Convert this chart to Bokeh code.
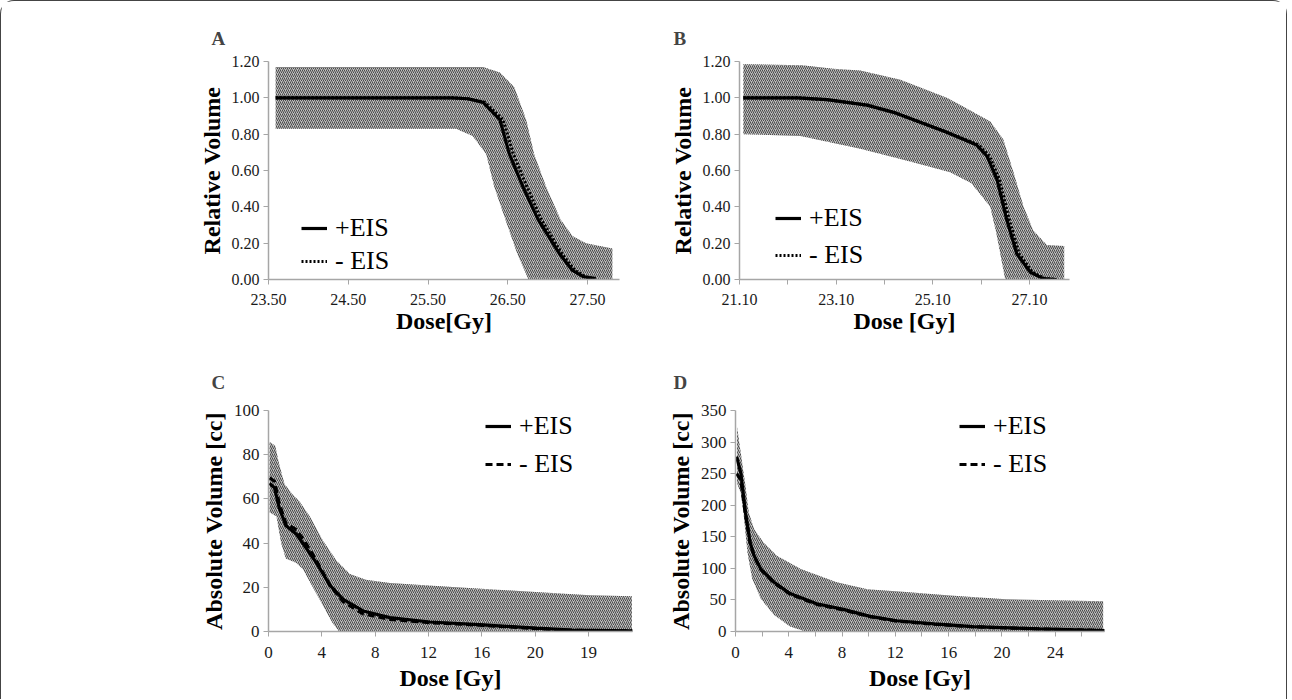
from bokeh.plotting import figure
from bokeh.layouts import column, row
from bokeh.models import Range1d, FixedTicker, NumeralTickFormatter, Legend, LegendItem
from bokeh.embed import file_html
from bokeh.resources import INLINE

# ---------------- data ----------------
# Panel A (relative DVH)
a_hi_x = [23.59, 26.19, 26.40, 26.58, 26.73, 26.83, 26.98, 27.16, 27.31, 27.48, 27.81]
a_hi_y = [1.17, 1.17, 1.14, 1.06, 0.88, 0.69, 0.51, 0.33, 0.24, 0.20, 0.17]
a_lo_x = [23.59, 25.85, 26.06, 26.23, 26.33, 26.47, 26.62, 26.76, 27.81]
a_lo_y = [0.83, 0.83, 0.79, 0.69, 0.51, 0.33, 0.14, 0.0, 0.0]
a_plus_x = [23.59, 25.80, 26.00, 26.19, 26.40, 26.52, 26.69, 26.88, 27.15, 27.31, 27.45, 27.60]
a_plus_y = [1.0, 1.0, 0.995, 0.975, 0.88, 0.69, 0.51, 0.33, 0.14, 0.05, 0.015, 0.005]
a_minus_x = [23.59, 25.80, 26.00, 26.21, 26.44, 26.57, 26.74, 26.92, 27.18, 27.34, 27.47, 27.60]
a_minus_y = [1.0, 1.0, 0.995, 0.975, 0.88, 0.69, 0.51, 0.33, 0.14, 0.05, 0.015, 0.005]

# Panel B
b_hi_x = [21.18, 22.40, 23.04, 23.60, 24.43, 25.39, 25.67, 26.29, 26.56, 26.77, 26.98, 27.18, 27.46, 27.82]
b_hi_y = [1.185, 1.18, 1.16, 1.15, 1.10, 1.00, 0.96, 0.87, 0.77, 0.59, 0.40, 0.27, 0.19, 0.185]
b_lo_x = [21.18, 22.36, 23.60, 24.63, 25.46, 25.90, 26.29, 26.42, 26.60, 27.82]
b_lo_y = [0.80, 0.79, 0.72, 0.65, 0.59, 0.53, 0.40, 0.25, 0.0, 0.0]
b_plus_x = [21.18, 22.30, 22.91, 23.74, 24.29, 25.35, 26.01, 26.22, 26.43, 26.63, 26.84, 27.12, 27.39, 27.66]
b_plus_y = [1.0, 1.0, 0.99, 0.96, 0.92, 0.815, 0.74, 0.68, 0.55, 0.33, 0.14, 0.04, 0.005, 0.0]
b_minus_x = [21.18, 22.30, 22.91, 23.74, 24.29, 25.35, 26.05, 26.27, 26.48, 26.68, 26.89, 27.16, 27.42, 27.66]
b_minus_y = [1.0, 1.0, 0.99, 0.96, 0.92, 0.815, 0.74, 0.68, 0.55, 0.33, 0.14, 0.04, 0.005, 0.0]

# Panel C (absolute DVH)
c_hi_x = [0.08, 0.5, 0.8, 1.2, 1.8, 2.3, 3.1, 4.1, 5.1, 6.1, 7.3, 9.1, 14.1, 19.1, 24.1, 27.25]
c_hi_y = [85.7, 84, 75.7, 66.7, 62, 59, 52, 41, 32, 26, 23.4, 22, 20, 18.2, 16.4, 16]
c_lo_x = [0.08, 0.6, 0.95, 1.3, 2.1, 2.6, 3.3, 4.1, 4.8, 5.3, 27.25]
c_lo_y = [54, 52, 40, 33, 31, 28, 20.4, 11.5, 4, 0, 0]
c_x = [0.08, 0.45, 0.8, 1.3, 2.1, 2.8, 3.6, 4.6, 5.6, 7.1, 9.1, 12.1, 16.1, 20.1, 22.8, 27.3]
c_plus_y = [67, 65, 56, 48, 44, 38, 31, 21, 14.5, 9.3, 6.3, 4.3, 3.0, 1.5, 0.6, 0.3]
c_minus_y = [69.5, 68, 58, 49, 46, 40, 32, 21, 13.5, 8, 5.5, 4, 2.8, 1.3, 0.5, 0.3]

# Panel D
d_hi_x = [0.12, 0.4, 0.75, 1.0, 1.4, 2.1, 3.1, 4.9, 7.6, 9.9, 12.8, 16.1, 20.3, 27.6]
d_hi_y = [324, 282, 230, 188, 162, 141, 120, 99, 78, 67, 62.7, 57, 51, 48]
d_lo_x = [0.12, 0.4, 0.6, 0.9, 1.25, 1.9, 2.9, 4.1, 5.25, 27.6]
d_lo_y = [235, 219, 188, 125, 84, 52, 26, 8, 0, 0]
d_x = [0.08, 0.4, 0.75, 1.1, 1.4, 1.9, 2.9, 4.1, 6.1, 8.1, 10.1, 12.1, 14.9, 17.8, 22.8, 27.7]
d_plus_y = [277, 251, 188, 141, 120, 99, 78, 60, 44, 35, 24, 17, 12, 7.8, 4.2, 1.6]
d_minus_y = [250, 240, 185, 140, 119, 98, 77, 59, 43, 34, 23.5, 16.5, 11.5, 7.5, 4, 1.5]

# ticks / labels
a_xticks = [23.5, 24.5, 25.5, 26.5, 27.5]
ab_yticks = [0.0, 0.2, 0.4, 0.6, 0.8, 1.0, 1.2]
b_xticks = [21.1, 23.1, 25.1, 27.1]
b_xminor = [22.1, 24.1, 26.1]
c_xticks = [0, 4, 8, 12, 16, 20, 24]
c_xlabels = {24: "19"}
c_yticks = [0, 20, 40, 60, 80, 100]
d_xticks = [0, 4, 8, 12, 16, 20, 24]
d_xminor = [2, 6, 10, 14, 18, 22, 26]
d_yticks = [0, 50, 100, 150, 200, 250, 300, 350]

SERIF = "Liberation Serif"
AXIS_COL = "#a6a6a6"
TXT = "#1a1a1a"


def panel(letter, w, h, bl, br, bt, bb, xr, yr, xlabel, ylabel, xticks, yticks,
          xfmt, yfmt, tick_fs, xminor=None, overrides=None, letter_off=-57,
          xlab_standoff=9, xtitle_standoff=0, title_standoff=25):
    p = figure(width=w, height=h, output_backend="svg", toolbar_location=None,
               x_range=Range1d(*xr), y_range=Range1d(*yr),
               min_border_left=bl, min_border_right=br,
               min_border_top=bt, min_border_bottom=bb)
    p.outline_line_color = None
    p.grid.visible = False
    p.background_fill_color = "white"
    p.title.text = letter
    p.title.text_font = SERIF
    p.title.text_font_size = "19px"
    p.title.text_font_style = "bold"
    p.title.align = "left"
    p.title.offset = letter_off
    p.title.standoff = title_standoff
    p.xaxis.ticker = FixedTicker(ticks=xticks, minor_ticks=xminor or [])
    p.yaxis.ticker = FixedTicker(ticks=yticks)
    if xfmt:
        p.xaxis.formatter = NumeralTickFormatter(format=xfmt)
    if yfmt:
        p.yaxis.formatter = NumeralTickFormatter(format=yfmt)
    if overrides:
        p.xaxis.major_label_overrides = overrides
    for ax in (p.xaxis, p.yaxis):
        ax.axis_line_color = AXIS_COL
        ax.axis_line_width = 1.5
        ax.major_tick_line_color = AXIS_COL
        ax.minor_tick_line_color = AXIS_COL
        ax.major_tick_out = 5
        ax.major_tick_in = 0
        ax.minor_tick_out = 5 if xminor else 0
        ax.minor_tick_in = 0
        ax.major_label_text_font = SERIF
        ax.major_label_text_font_size = tick_fs
        ax.major_label_text_color = TXT
        ax.axis_label_text_font = SERIF
        ax.axis_label_text_font_size = "24px"
        ax.axis_label_text_font_style = "bold"
        ax.axis_label_text_color = "#000000"
    p.yaxis.major_label_standoff = 4
    p.yaxis.axis_label_standoff = 4
    p.xaxis.major_label_standoff = xlab_standoff
    p.xaxis.axis_label_standoff = xtitle_standoff
    p.yaxis.minor_tick_out = 0
    p.xaxis.axis_label = xlabel
    p.yaxis.axis_label = ylabel
    return p


def band(p, hx, hy, lx, ly):
    p.patch(x=list(hx) + list(lx[::-1]), y=list(hy) + list(ly[::-1]),
            fill_color="#bdbdbd", line_color=None,
            hatch_pattern="/", hatch_scale=4, hatch_weight=1, hatch_color="#4a4a4a")


def curves(p, x1, y1, x2, y2, dash, loc, spacing):
    r1 = p.line(x1, y1, line_color="black", line_width=3.2)
    r2 = p.line(x2, y2, line_color="black", line_width=3.2, line_dash=dash)
    leg = Legend(items=[LegendItem(label="+EIS", renderers=[r1]),
                        LegendItem(label="- EIS", renderers=[r2])],
                 location=loc, padding=0, margin=0, border_line_color=None,
                 background_fill_alpha=0, glyph_width=26, glyph_height=30,
                 label_height=30, label_standoff=8, spacing=spacing,
                 label_text_font=SERIF, label_text_font_size="26px",
                 label_text_color="#000000")
    return leg


# Layout origin is the page corner (+1.5px border).
# Left column width 650, right column 635; row heights 344 and 354.
pA = panel("A", 650, 344, 267, 32, 60, 66, (23.5, 27.9), (0, 1.2), "Dose[Gy]",
           "Relative Volume", a_xticks, ab_yticks, "0.00", "0.00", "16px")
band(pA, a_hi_x, a_hi_y, a_lo_x, a_lo_y)
legA = curves(pA, a_plus_x, a_plus_y, a_minus_x, a_minus_y, "2 2", (33, 3), 3)
pA.add_layout(legA)

pB = panel("B", 635, 344, 88, 217, 60, 66, (21.1, 27.93), (0, 1.2), "Dose [Gy]",
           "Relative Volume", b_xticks, ab_yticks, "0.00", "0.00", "16px",
           xminor=b_xminor, letter_off=-66)
band(pB, b_hi_x, b_hi_y, b_lo_x, b_lo_y)
legB = curves(pB, b_plus_x, b_plus_y, b_minus_x, b_minus_y, "2 2", (36, 9), 7)
pB.add_layout(legB)

pC = panel("C", 650, 354, 267, 19, 65, 68, (0, 27.3), (0, 100), "Dose [Gy]",
           "Absolute Volume [cc]", c_xticks, c_yticks, "0", "0", "17px",
           overrides=c_xlabels, xlab_standoff=10, xtitle_standoff=4,
           title_standoff=36)
band(pC, c_hi_x, c_hi_y, c_lo_x, c_lo_y)
legC = curves(pC, c_x, c_plus_y, c_x, c_minus_y, "7 4", (217, 152), 8)
pC.add_layout(legC)

pD = panel("D", 635, 354, 84, 182, 65, 68, (0, 27.7), (0, 350), "Dose [Gy]",
           "Absolute Volume [cc]", d_xticks, d_yticks, "0", "0", "17px",
           xminor=d_xminor, letter_off=-62, xlab_standoff=10, xtitle_standoff=4,
           title_standoff=36)
band(pD, d_hi_x, d_hi_y, d_lo_x, d_lo_y)
legD = curves(pD, d_x, d_plus_y, d_x, d_minus_y, "7 4", (224, 152), 8)
pD.add_layout(legD)

layout = column(row(pA, pB), row(pC, pD),
                styles={"border": "1.5px solid #444", "border-bottom": "none",
                        "border-radius": "14px 14px 0 0"})

open("out.html", "w").write(file_html(layout, INLINE))
